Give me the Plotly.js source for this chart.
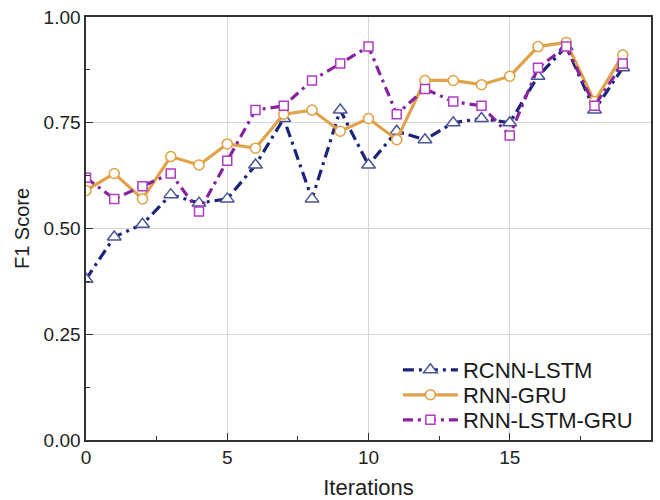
<!DOCTYPE html>
<html>
<head>
<meta charset="utf-8">
<script src="https://cdn.plot.ly/plotly-3.0.1.min.js"></script>
<style>html,body{margin:0;padding:0;background:#fff;}</style>
</head>
<body>
<div id="chart" style="width:660px;height:500px;"></div>
<script>
const iterations = [0,1,2,3,4,5,6,7,8,9,10,11,12,13,14,15,16,17,18,19];
const rcnnLstm = [0.38,0.48,0.51,0.58,0.56,0.57,0.65,0.76,0.57,0.78,0.65,0.73,0.71,0.75,0.76,0.75,0.86,0.93,0.78,0.88];
const rnnGru = [0.59,0.63,0.57,0.67,0.65,0.70,0.69,0.77,0.78,0.73,0.76,0.71,0.85,0.85,0.84,0.86,0.93,0.94,0.80,0.91];
const rnnLstmGru = [0.62,0.57,0.60,0.63,0.54,0.66,0.78,0.79,0.85,0.89,0.93,0.77,0.83,0.80,0.79,0.72,0.88,0.93,0.79,0.89];
const seriesNames = ['RCNN-LSTM','RNN-GRU','RNN-LSTM-GRU'];
const xTickVals = [0,5,10,15,20];
const yTickVals = [0,0.25,0.5,0.75,1.0];

const FONT = 'Arial, "Liberation Sans", sans-serif';

const traces = [
  {
    x: iterations, y: rcnnLstm, name: seriesNames[0], type: 'scatter', mode: 'lines+markers',
    line: {color: '#1b2478', width: 3.2, dash: '11px,5px,3px,5px'},
    marker: {symbol: 'triangle-up', size: 12, color: '#ffffff', line: {color: '#4b5698', width: 1.5}},
    legend: 'legend'
  },
  {
    x: iterations, y: rnnGru, name: seriesNames[1], type: 'scatter', mode: 'lines+markers',
    line: {color: '#e0a24a', width: 3.2},
    marker: {symbol: 'circle', size: 10, color: '#ffffff', line: {color: '#e0a040', width: 1.5}},
    legend: 'legend2'
  },
  {
    x: iterations, y: rnnLstmGru, name: seriesNames[2], type: 'scatter', mode: 'lines+markers',
    line: {color: '#85249e', width: 3.2, dash: '10px,5px,3px,5px'},
    marker: {symbol: 'square', size: 9, color: '#ffffff', line: {color: '#b03cc4', width: 1.5}},
    legend: 'legend3'
  }
];

function legendAt(yPaper) {
  return {
    x: 0.552, xanchor: 'left', y: yPaper, yanchor: 'middle',
    bgcolor: 'rgba(0,0,0,0)', borderwidth: 0,
    font: {family: FONT, size: 22, color: '#1a1a1a'},
    itemwidth: 55
  };
}

const layout = {
  width: 660, height: 500,
  margin: {l: 86, r: 9, t: 17, b: 60},
  paper_bgcolor: '#ffffff', plot_bgcolor: '#ffffff',
  showlegend: true,
  xaxis: {
    range: [0, 20], tickvals: xTickVals, ticktext: xTickVals.map(String),
    showgrid: true, gridcolor: '#d6d6d6', gridwidth: 1,
    showline: true, linecolor: '#333333', linewidth: 1.6, mirror: true,
    ticks: 'inside', ticklen: 7, tickwidth: 1.4, tickcolor: '#333333',
    minor: {dtick: 2.5, tick0: 0, ticks: 'inside', ticklen: 4, tickwidth: 1.2, tickcolor: '#333333', showgrid: false},
    zeroline: false,
    tickfont: {family: FONT, size: 19, color: '#222222'},
    title: {text: 'Iterations', font: {family: FONT, size: 22, color: '#222222'}, standoff: 13}
  },
  yaxis: {
    range: [0, 1], tickvals: yTickVals, tickformat: '.2f',
    showgrid: true, gridcolor: '#d6d6d6', gridwidth: 1,
    showline: true, linecolor: '#333333', linewidth: 1.6, mirror: true,
    ticks: 'inside', ticklen: 7, tickwidth: 1.4, tickcolor: '#333333',
    minor: {dtick: 0.125, tick0: 0, ticks: 'inside', ticklen: 4, tickwidth: 1.2, tickcolor: '#333333', showgrid: false},
    zeroline: false,
    tickfont: {family: FONT, size: 19, color: '#222222'},
    title: {text: 'F1 Score', font: {family: FONT, size: 20, color: '#222222'}, standoff: 8}
  },
  legend: legendAt(0.1655),
  legend2: legendAt(0.1064),
  legend3: legendAt(0.0473)
};

Plotly.newPlot('chart', traces, layout, {displayModeBar: false, staticPlot: true});
</script>
</body>
</html>
